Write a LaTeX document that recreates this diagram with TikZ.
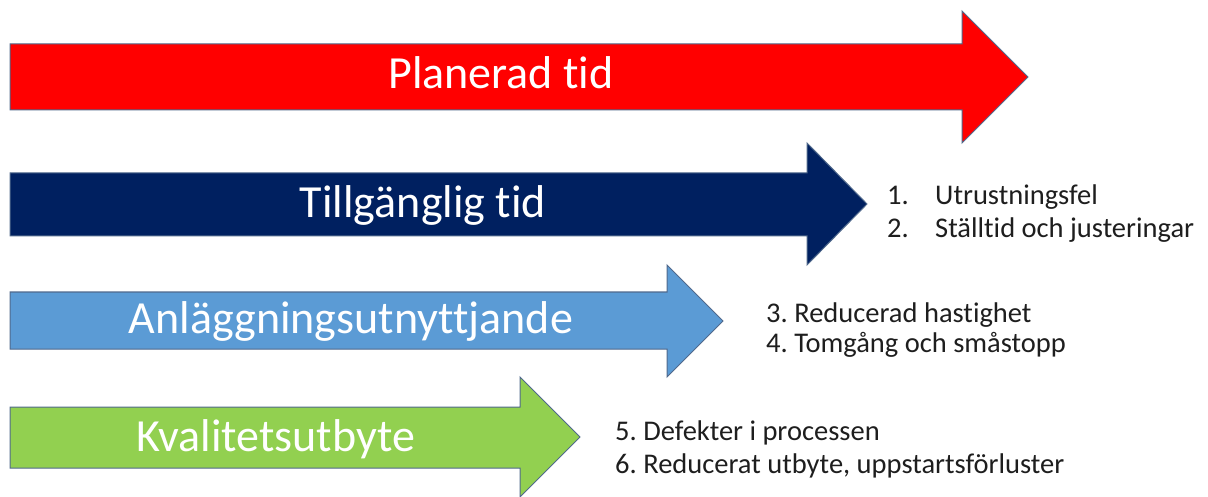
\documentclass[tikz,border=0pt]{standalone}
\usepackage{fontspec}
\setmainfont{Carlito}[Ligatures=CommonOff]
\frenchspacing
\definecolor{cRed}{RGB}{255,0,0}
\definecolor{cNavy}{RGB}{0,32,96}
\definecolor{cLight}{RGB}{91,155,213}
\definecolor{cGreen}{RGB}{146,208,80}
\definecolor{cEdge}{RGB}{80,105,140}
\definecolor{cTxt}{RGB}{30,30,30}
\begin{document}
\begin{tikzpicture}[x=1pt,y=-1pt,
  bigarrow/.style={draw=cEdge,line width=1pt,line join=miter},
  title/.style={text=white,font=\fontsize{46}{50}\selectfont,inner sep=0pt,anchor=base},
  item/.style={text=cTxt,font=\fontsize{28.5}{32}\selectfont,anchor=base west,inner sep=0pt}]
\useasboundingbox (0,0) rectangle (1208,497);
\fill[white] (0,0) rectangle (1208,497);
% arrows
\path[bigarrow,fill=cRed] (10,44) -- (962,44) -- (962,11) -- (1028,77) -- (962,143) -- (962,110) -- (10,110) -- cycle;
\path[bigarrow,fill=cNavy] (10,173) -- (807,173) -- (807,143) -- (867,204) -- (807,265) -- (807,236) -- (10,236) -- cycle;
\path[bigarrow,fill=cLight] (10,292) -- (667,292) -- (667,265) -- (723,321) -- (667,377) -- (667,349) -- (10,349) -- cycle;
\path[bigarrow,fill=cGreen] (10,407) -- (520,407) -- (520,377) -- (580,437) -- (520,497) -- (520,468) -- (10,468) -- cycle;
% titles
\node[title] (t1) at (501,89) {Planerad tid};
\node[title] (t2) at (423,218) {Tillgänglig tid};
\node[title] (t3) at (351,334) {Anläggningsutnyttjande};
\node[title] (t4) at (276,451) {Kvalitetsutbyte};
% lists
\node[item] (n1) at (887,205) {1.};
\node[item] (l1) at (935,205) {Utrustningsfel};
\node[item] (n2) at (887,238) {2.};
\node[item] (l2) at (935,238) {Ställtid och justeringar};
\node[item] (l3) at (766,322) {3. Reducerad hastighet};
\node[item] (l4) at (766,352) {4. Tomgång och småstopp};
\node[item] (l5) at (615,440) {5. Defekter i processen};
\node[item] (l6) at (615,473) {6. Reducerat utbyte, uppstartsförluster};
\end{tikzpicture}
\end{document}
